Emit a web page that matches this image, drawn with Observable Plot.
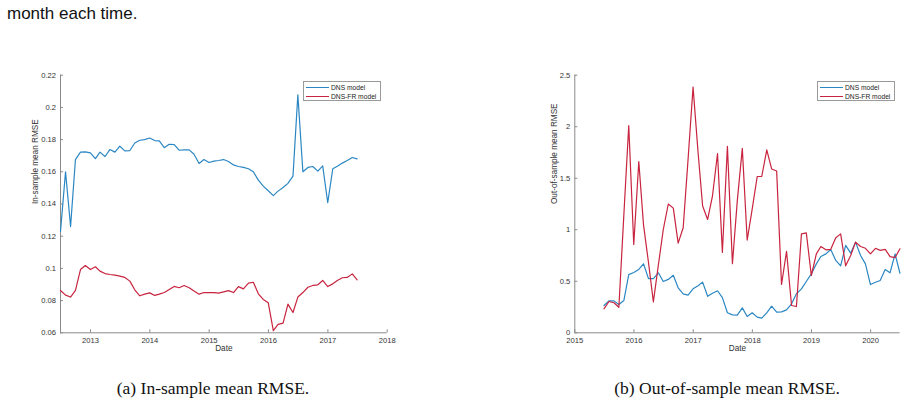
<!DOCTYPE html>
<html>
<head>
<meta charset="utf-8">
<script src="https://cdn.jsdelivr.net/npm/d3@7"></script>
<script src="https://cdn.jsdelivr.net/npm/@observablehq/plot@0.6"></script>
<style>
  html, body { margin: 0; padding: 0; background: #fff; }
  body { width: 907px; height: 404px; overflow: hidden; position: relative; font-family: "Liberation Sans", Arial, sans-serif; }
  .abs { position: absolute; }
  #lead { left: 7px; top: 4px; font-size: 17px; color: #111; white-space: nowrap; }
  .cap { font-family: "Liberation Serif", "Times New Roman", serif; font-size: 17.5px; color: #111; white-space: nowrap; transform: translateX(-50%); top: 378px; }
  .legend { border: 1px solid #9a9a9a; background: #fff; box-sizing: border-box; font-size: 6.7px; color: #222; }
  .legend .row { position: absolute; left: 0; height: 8px; display: flex; align-items: center; white-space: nowrap; }
  .legend .sw { width: 23px; height: 0; border-top: 1.2px solid; margin: 0 2px 0 2px; }
</style>
</head>
<body>
<div id="lead" class="abs">month each time.</div>
<div id="panelA" class="abs" style="left:0px;top:60px"></div>
<div id="panelB" class="abs" style="left:460px;top:60px"></div>
<div class="abs cap" style="left:213px">(a) In-sample mean RMSE.</div>
<div class="abs cap" style="left:727px">(b) Out-of-sample mean RMSE.</div>
<script>
// Model names and line colours
const seriesNames = ["DNS model", "DNS-FR model"];
const seriesColors = ["#2b87c3", "#c8243f"];

// In-sample mean RMSE, month-end values from June 2012 to June 2017
const inFirstMonth = [2012, 6];
const inDNS = [
  0.123, 0.160, 0.126, 0.1676, 0.1722, 0.1724, 0.1718, 0.1682, 0.1722, 0.1695,
  0.1738, 0.1722, 0.1759, 0.1730, 0.1732, 0.1779, 0.1796, 0.1800, 0.1810, 0.1794,
  0.1792, 0.1750, 0.1771, 0.1769, 0.1734, 0.1736, 0.1736, 0.1709, 0.1652, 0.1676,
  0.1658, 0.1666, 0.1670, 0.1676, 0.1664, 0.1643, 0.1633, 0.1627, 0.1619, 0.1600,
  0.1548, 0.1511, 0.1482, 0.1452, 0.1480, 0.1503, 0.1528, 0.1573, 0.2078, 0.1600,
  0.1627, 0.1633, 0.1604, 0.1637, 0.1408, 0.1619, 0.1635, 0.1654, 0.1670, 0.1689,
  0.1680
];
const inDNSFR = [
  0.0863, 0.0834, 0.0822, 0.0863, 0.0993, 0.1018, 0.0993, 0.1010, 0.0983, 0.0968,
  0.0962, 0.0958, 0.0952, 0.0944, 0.0921, 0.0867, 0.0830, 0.0840, 0.0848, 0.0832,
  0.0840, 0.0850, 0.0869, 0.0888, 0.0880, 0.0894, 0.0880, 0.0859, 0.0840, 0.0850,
  0.0850, 0.0850, 0.0846, 0.0854, 0.0862, 0.0850, 0.0887, 0.0873, 0.0908, 0.0914,
  0.0842, 0.0807, 0.0786, 0.0614, 0.0652, 0.0660, 0.0778, 0.0726, 0.0822, 0.0850,
  0.0883, 0.0894, 0.0898, 0.0925, 0.0887, 0.0904, 0.0925, 0.0942, 0.0944, 0.0966,
  0.0929
];

// Out-of-sample mean RMSE, month-end values from June 2015 to June 2020
const outFirstMonth = [2015, 6];
const outDNS = [
  0.265, 0.310, 0.310, 0.275, 0.314, 0.565, 0.585, 0.615, 0.670, 0.526,
  0.526, 0.582, 0.498, 0.518, 0.558, 0.437, 0.377, 0.365, 0.427, 0.457,
  0.492, 0.354, 0.384, 0.408, 0.341, 0.194, 0.174, 0.171, 0.242, 0.158,
  0.194, 0.152, 0.142, 0.194, 0.259, 0.200, 0.203, 0.223, 0.281, 0.378,
  0.426, 0.498, 0.572, 0.669, 0.740, 0.766, 0.808, 0.702, 0.650, 0.848,
  0.773, 0.880, 0.750, 0.669, 0.468, 0.490, 0.507, 0.614, 0.582, 0.766,
  0.578
];
const outDNSFR = [
  0.233, 0.304, 0.292, 0.248, 1.15, 2.012, 0.857, 1.662, 1.05, 0.68,
  0.300, 0.660, 1.000, 1.250, 1.210, 0.870, 1.020, 1.680, 2.384, 1.750,
  1.230, 1.100, 1.330, 1.740, 0.780, 1.810, 0.670, 1.280, 1.790, 0.900,
  1.200, 1.517, 1.517, 1.776, 1.590, 1.570, 0.469, 0.790, 0.265, 0.255,
  0.960, 0.970, 0.556, 0.766, 0.837, 0.805, 0.810, 0.922, 0.960, 0.650,
  0.750, 0.880, 0.837, 0.820, 0.766, 0.820, 0.800, 0.810, 0.740, 0.730,
  0.815
];

// Axis ticks
const inYTicks = [0.06, 0.08, 0.1, 0.12, 0.14, 0.16, 0.18, 0.2, 0.22];
const inXTicks = [2013, 2014, 2015, 2016, 2017, 2018];
const outYTicks = [0, 0.5, 1, 1.5, 2, 2.5];
const outXTicks = [2015, 2016, 2017, 2018, 2019, 2020];

const axisColor = "#8a8a8a";

// Last day of the month, i months after the given first month
const monthEnd = ([y, m], i) => new Date(Date.UTC(y, m + i, 0));
const yearStart = (y) => new Date(Date.UTC(y, 0, 1));

function toRows(first, a, b) {
  const rows = [];
  [a, b].forEach((vals, k) => vals.forEach((v, i) =>
    rows.push({date: monthEnd(first, i), value: v, series: seriesNames[k]})));
  return rows;
}

function panel({rows, xDomain, yDomain, xTicks, yTicks, yLabel, margins}) {
  return Plot.plot({
    width: margins.width,
    height: 300,
    marginLeft: margins.left,
    marginRight: margins.right,
    marginTop: 14.7,
    marginBottom: 27.7,
    style: {fontFamily: "'Liberation Sans', Arial, sans-serif", fontSize: "7.6px", color: "#333", background: "transparent", overflow: "visible"},
    x: {type: "utc", domain: xDomain},
    y: {domain: yDomain},
    color: {domain: seriesNames, range: seriesColors},
    marks: [
      Plot.ruleX([xDomain[0]], {stroke: axisColor, strokeWidth: 1}),
      Plot.ruleY([yDomain[0]], {stroke: axisColor, strokeWidth: 1}),
      Plot.axisX(xTicks.map(yearStart), {tickSize: -3, tickPadding: 8, stroke: axisColor, tickFormat: d3.utcFormat("%Y"), label: null}),
      Plot.axisY(yTicks, {tickSize: -3, tickPadding: 7.5, stroke: axisColor, tickFormat: (d) => String(d), label: null}),
      Plot.text([yLabel], {frameAnchor: "left", dx: -margins.yLabelGap, rotate: -90, fontSize: 8.2, fill: "#333"}),
      Plot.text(["Date"], {frameAnchor: "bottom", dy: 18.5, fontSize: 8.2, fill: "#333"}),
      Plot.line(rows, {x: "date", y: "value", z: "series", stroke: "series", strokeWidth: 1.2})
    ]
  });
}

function legend(parent, left, top) {
  const box = document.createElement("div");
  box.className = "abs legend";
  Object.assign(box.style, {left: left + "px", top: top + "px", width: "78px", height: "20px"});
  seriesNames.forEach((name, k) => {
    const row = document.createElement("div");
    row.className = "row";
    row.style.top = (1.5 + k * 8.5) + "px";
    const sw = document.createElement("span");
    sw.className = "sw";
    sw.style.borderTopColor = seriesColors[k];
    row.appendChild(sw);
    row.appendChild(document.createTextNode(name));
    box.appendChild(row);
  });
  parent.appendChild(box);
}

const inRows = toRows(inFirstMonth, inDNS, inDNSFR);
const outRows = toRows(outFirstMonth, outDNS, outDNSFR);

document.getElementById("panelA").appendChild(panel({
  rows: inRows,
  xDomain: [monthEnd(inFirstMonth, 0), yearStart(2018)],
  yDomain: [0.06, 0.22],
  xTicks: inXTicks,
  yTicks: inYTicks,
  yLabel: "In-sample mean RMSE",
  margins: {width: 450, left: 60, right: 63.3, yLabelGap: 25}
}));

document.getElementById("panelB").appendChild(panel({
  rows: outRows,
  xDomain: [yearStart(2015), new Date(Date.UTC(2020, 6, 1))],
  yDomain: [0, 2.5],
  xTicks: outXTicks,
  yTicks: outYTicks,
  yLabel: "Out-of-sample mean RMSE",
  margins: {width: 447, left: 114.3, right: 7.4, yLabelGap: 20.5}
}));

legend(document.body, 303, 81);
legend(document.body, 817, 81);
</script>
</body>
</html>
